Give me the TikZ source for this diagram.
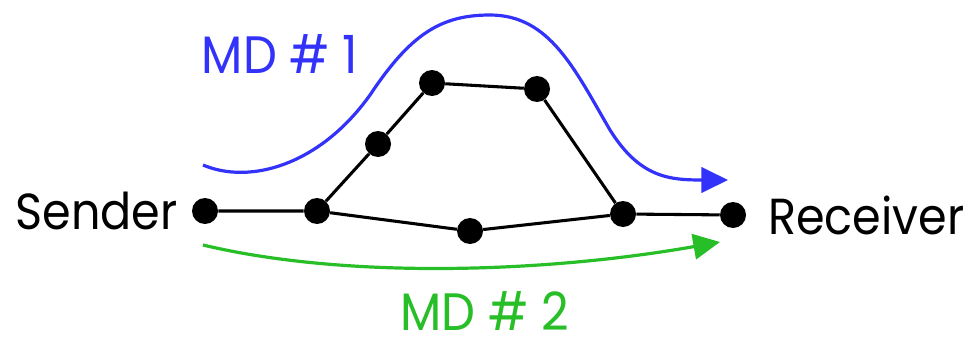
\documentclass[tikz,border=0pt]{standalone}
\usepackage{fontspec}
\setmainfont{Poppins}[FakeStretch=0.91]
\usetikzlibrary{arrows.meta}
\definecolor{mdblue}{RGB}{50,50,250}
\definecolor{mdgreen}{RGB}{40,190,40}
\begin{document}
\begin{tikzpicture}[x=0.75pt,y=-0.75pt,
  dot/.style={circle,fill=black,inner sep=0pt,minimum size=19.5pt},
  link/.style={line width=2.3pt,black},
  lbl/.style={font=\fontsize{38}{40}\selectfont,inner sep=0pt},
  flow/.style={line width=2.4pt,-{Triangle[length=20pt,width=19pt]}}]
\useasboundingbox (0,0) rectangle (967,339);
\node[dot] (s) at (205,211) {};
\node[dot] (a) at (317,211) {};
\node[dot] (b) at (378,144) {};
\node[dot] (c) at (432,83) {};
\node[dot] (d) at (537,89) {};
\node[dot] (e) at (623,214) {};
\node[dot] (f) at (470,231) {};
\node[dot] (r) at (733,215) {};
\draw[link] (s) -- (a) -- (b) -- (c) -- (d) -- (e) -- (r);
\draw[link] (a) -- (f) -- (e);
\node[lbl,anchor=east] (sl) at (178,211) {Sender};
\node[lbl,anchor=west] (rl) at (768,215) {Receiver};
\node[lbl,text=mdblue,font=\fontsize{39.5}{40}\selectfont] (m1) at (280,54) {MD \# 1};
\node[lbl,text=mdgreen,font=\fontsize{39.5}{40}\selectfont] (m2) at (485,311) {MD \# 2};
\coordinate (b0) at (203,165);
\coordinate (b1) at (728,180);
\coordinate (g0) at (203,245);
\coordinate (g1) at (720,242);
\draw[flow,mdblue] (b0) .. controls (250,185) and (320,165) .. (370,95)
  .. controls (410,35) and (440,15) .. (490,15)
  .. controls (550,15) and (575,70) .. (610,130)
  .. controls (640,178) and (670,180) .. (b1);
\draw[flow,mdgreen] (g0) .. controls (350,280) and (550,272) .. (g1);
\end{tikzpicture}
\end{document}
